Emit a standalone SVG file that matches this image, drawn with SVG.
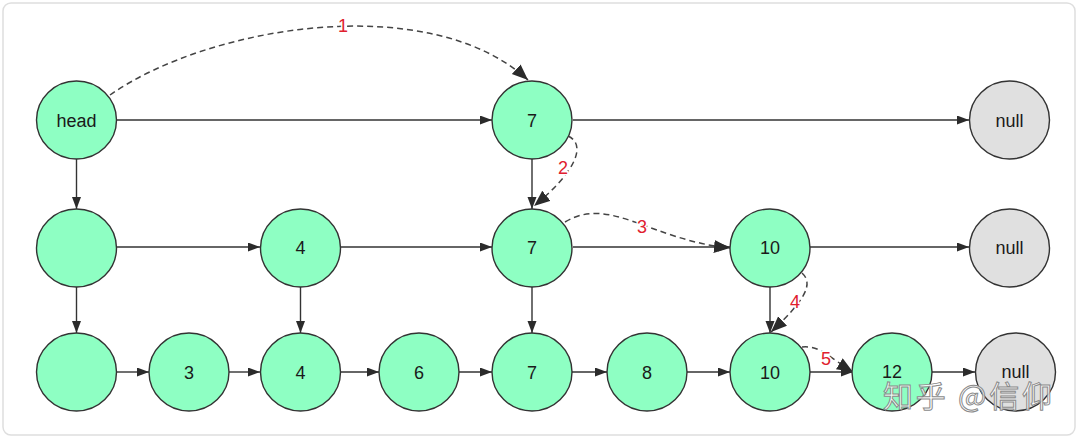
<svg xmlns="http://www.w3.org/2000/svg" width="1080" height="441" viewBox="0 0 1080 441">
  <defs>
    <marker id="arr" markerUnits="userSpaceOnUse" markerWidth="12" markerHeight="10" refX="12" refY="4.5" orient="auto">
      <path d="M0,0 L12,4.5 L0,9 Z" fill="#2b2b2b"/>
    </marker>
    <marker id="arrBig" markerUnits="userSpaceOnUse" markerWidth="17" markerHeight="14" refX="16" refY="6.5" orient="auto">
      <path d="M0,0 L16,6.5 L0,13 Z" fill="#2b2b2b"/>
    </marker>
    <style>
      .node { fill: #8effc3; stroke: #333; stroke-width: 1.4; }
      .null { fill: #e0e0e0; stroke: #333; stroke-width: 1.4; }
      .lbl { font-family: "Liberation Sans", Arial, sans-serif; font-size: 18px; fill: #1a1a1a; text-anchor: middle; dominant-baseline: central; }
      .edge { stroke: #333; stroke-width: 1.4; fill: none; marker-end: url(#arr); }
      .dash { stroke: #444; stroke-width: 1.5; fill: none; stroke-dasharray: 6 4; marker-end: url(#arrBig); }
      .step { font-family: "Liberation Sans", Arial, sans-serif; font-size: 18px; fill: #e0202e; text-anchor: middle; dominant-baseline: central; stroke: #fff; stroke-width: 3; paint-order: stroke; }
      .wm { font-family: "Noto Sans CJK SC", "Liberation Sans", sans-serif; font-size: 30px; fill: #ffffff; fill-opacity: 0.85; stroke: #8a8a8a; stroke-width: 1; }
    </style>
  </defs>
  <rect x="3" y="3" width="1072" height="432" rx="8" fill="#fff" stroke="#dedede" stroke-width="1.5"/>

  <g id="connectors">
    <line class="edge" x1="117" y1="120" x2="492" y2="120"/>
    <line class="edge" x1="573" y1="120" x2="969" y2="120"/>
    <line class="edge" x1="76.5" y1="159" x2="76.5" y2="209"/>
    <line class="edge" x1="532" y1="159" x2="532" y2="209"/>
    <line class="edge" x1="117" y1="247" x2="260" y2="247"/>
    <line class="edge" x1="341" y1="247" x2="492" y2="247"/>
    <line class="edge" x1="573" y1="247" x2="730" y2="247"/>
    <line class="edge" x1="810" y1="247" x2="969" y2="247"/>
    <line class="edge" x1="76.5" y1="287" x2="76.5" y2="333"/>
    <line class="edge" x1="300.5" y1="287" x2="300.5" y2="333"/>
    <line class="edge" x1="532" y1="287" x2="532" y2="333"/>
    <line class="edge" x1="770" y1="287" x2="770" y2="333"/>
    <line class="edge" x1="117" y1="372" x2="149" y2="372"/>
    <line class="edge" x1="229" y1="372" x2="260" y2="372"/>
    <line class="edge" x1="341" y1="372" x2="379" y2="372"/>
    <line class="edge" x1="459" y1="372" x2="492" y2="372"/>
    <line class="edge" x1="572" y1="372" x2="607" y2="372"/>
    <line class="edge" x1="687" y1="372" x2="730" y2="372"/>
    <line class="edge" x1="810" y1="372" x2="853" y2="372"/>
    <line class="edge" x1="932" y1="372" x2="975" y2="372"/>

    <path class="dash" d="M110,95 C210,25 430,-10 528,80"/>
    <path class="dash" d="M568,136 C586,144 578,170 534,206"/>
    <path class="dash" d="M565,222 C610,195 650,240 730,248"/>
    <path class="dash" d="M802,273 C814,284 805,300 771,332"/>
    <path class="dash" d="M802,347 C820,345 830,358 853,372"/>

    <text class="step" x="343" y="26">1</text>
    <text class="step" x="563" y="168">2</text>
    <text class="step" x="642" y="227">3</text>
    <text class="step" x="795" y="302">4</text>
    <text class="step" x="826" y="359">5</text>
  </g>

  <g id="n-head"><ellipse class="node" cx="76.5" cy="120" rx="40" ry="39"/><text class="lbl" x="76.5" y="121">head</text></g>
  <g id="n-r1-7"><ellipse class="node" cx="532" cy="120" rx="40" ry="39"/><text class="lbl" x="532" y="121">7</text></g>
  <g id="n-r1-null"><ellipse class="null" cx="1009.5" cy="120" rx="40" ry="39"/><text class="lbl" x="1009.5" y="121">null</text></g>

  <g id="n-r2-a"><ellipse class="node" cx="76.5" cy="248" rx="40" ry="39"/></g>
  <g id="n-r2-4"><ellipse class="node" cx="300.5" cy="248" rx="40" ry="39"/><text class="lbl" x="300.5" y="248">4</text></g>
  <g id="n-r2-7"><ellipse class="node" cx="532" cy="248" rx="40" ry="39"/><text class="lbl" x="532" y="248">7</text></g>
  <g id="n-r2-10"><ellipse class="node" cx="770" cy="248" rx="40" ry="39"/><text class="lbl" x="770" y="248">10</text></g>
  <g id="n-r2-null"><ellipse class="null" cx="1009.5" cy="248" rx="40" ry="39"/><text class="lbl" x="1009.5" y="248">null</text></g>

  <g id="n-r3-a"><ellipse class="node" cx="76.5" cy="372" rx="40" ry="39"/></g>
  <g id="n-r3-3"><ellipse class="node" cx="189" cy="372" rx="40" ry="39"/><text class="lbl" x="189" y="373">3</text></g>
  <g id="n-r3-4"><ellipse class="node" cx="300.5" cy="372" rx="40" ry="39"/><text class="lbl" x="300.5" y="373">4</text></g>
  <g id="n-r3-6"><ellipse class="node" cx="419" cy="372" rx="40" ry="39"/><text class="lbl" x="419" y="373">6</text></g>
  <g id="n-r3-7"><ellipse class="node" cx="532" cy="372" rx="40" ry="39"/><text class="lbl" x="532" y="373">7</text></g>
  <g id="n-r3-8"><ellipse class="node" cx="647" cy="372" rx="40" ry="39"/><text class="lbl" x="647" y="373">8</text></g>
  <g id="n-r3-10"><ellipse class="node" cx="770" cy="372" rx="40" ry="39"/><text class="lbl" x="770" y="373">10</text></g>
  <g id="n-r3-12"><ellipse class="node" cx="892" cy="372" rx="40" ry="39"/><text class="lbl" x="892" y="372">12</text></g>
  <g id="n-r3-null"><ellipse class="null" cx="1015.5" cy="372" rx="40" ry="39"/><text class="lbl" x="1015.5" y="372">null</text></g>

  <text class="wm" x="883" y="407" textLength="169" lengthAdjust="spacing">知乎 @信仰</text>
</svg>
